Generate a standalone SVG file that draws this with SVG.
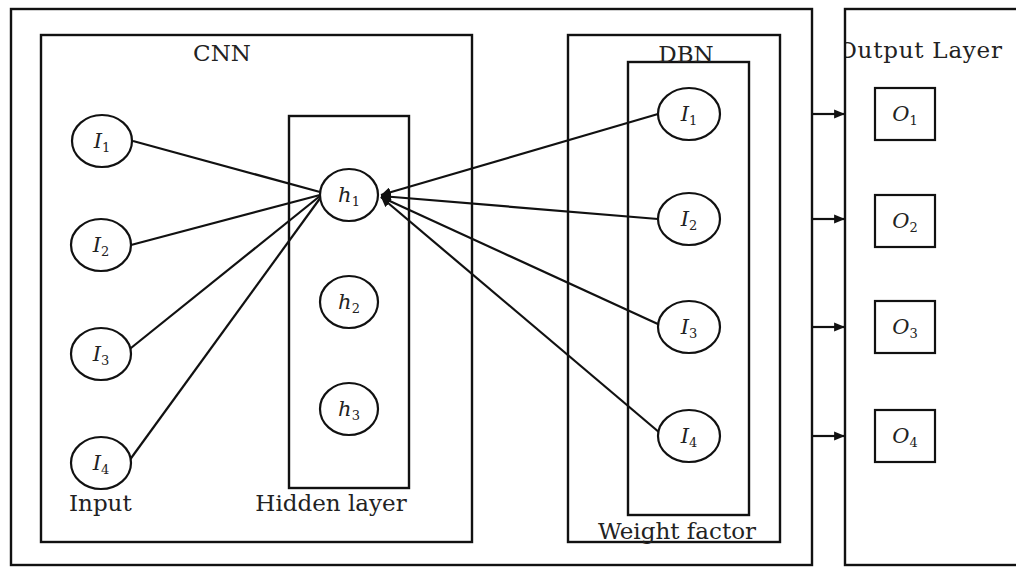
<svg xmlns="http://www.w3.org/2000/svg" width="1016" height="567" viewBox="0 0 1016 567">
<style>
.frame{fill:none;stroke:#111;stroke-width:2.4}
.node{fill:#fff;stroke:#111;stroke-width:2.2}
.edge{fill:none;stroke:#111;stroke-width:2.2}
.t{font-family:"DejaVu Serif","Liberation Serif",serif;font-size:23px;fill:#222}
.m{font-family:"DejaVu Serif","Liberation Serif",serif;font-style:italic;font-size:21px;fill:#222;text-anchor:middle}
.s{font-style:normal;font-size:13px}
</style>
<defs>
<marker id="ah" viewBox="0 0 10 10" refX="10" refY="5" markerWidth="4.5" markerHeight="4.5" orient="auto" markerUnits="strokeWidth">
<path d="M0,0 L10,5 L0,10 z" fill="#111"/>
</marker>
<marker id="ah2" viewBox="0 0 10 10" refX="9" refY="5" markerWidth="5" markerHeight="5" orient="auto" markerUnits="strokeWidth">
<path d="M0,1 L10,5 L0,9 z" fill="#111"/>
</marker>
</defs>
<rect width="1016" height="567" fill="#fff"/>
<g id="outer-frame"><rect class="frame" x="11" y="9" width="801" height="556"/></g>
<g id="output-frame">
<text class="t" x="838" y="58" textLength="164">Output Layer</text>
<rect x="833" y="0" width="11" height="80" fill="#fff"/>
<rect class="frame" x="845" y="9" width="190" height="556"/>
</g>
<g id="cnn">
<rect class="frame" x="41" y="35" width="431" height="507"/>
<text class="t" x="222" y="61" text-anchor="middle">CNN</text>
<text class="t" x="69" y="511">Input</text>
</g>
<g id="hidden-layer">
<rect class="frame" x="289" y="116" width="120" height="372"/>
<text class="t" x="331" y="511" text-anchor="middle">Hidden layer</text>
</g>
<g id="dbn">
<rect class="frame" x="568" y="35" width="212" height="507"/>
<rect class="frame" x="628" y="62" width="121" height="453"/>
<text class="t" x="686" y="62" text-anchor="middle">DBN</text>
<text class="t" x="677" y="539" text-anchor="middle">Weight factor</text>
</g>
<g id="connectors">
<line class="edge" x1="133" y1="141" x2="320" y2="192"/>
<line class="edge" x1="131" y1="245" x2="320" y2="195"/>
<line class="edge" x1="126" y1="352" x2="320" y2="196"/>
<line class="edge" x1="129" y1="461" x2="321" y2="197"/>
<line class="edge" x1="658" y1="114" x2="381" y2="195" marker-end="url(#ah)"/>
<line class="edge" x1="658" y1="219" x2="381" y2="196" marker-end="url(#ah)"/>
<line class="edge" x1="660" y1="325" x2="381" y2="197" marker-end="url(#ah)"/>
<line class="edge" x1="660" y1="433" x2="381" y2="197" marker-end="url(#ah)"/>
<line class="edge" x1="812" y1="114" x2="844" y2="114" marker-end="url(#ah2)"/>
<line class="edge" x1="812" y1="219" x2="844" y2="219" marker-end="url(#ah2)"/>
<line class="edge" x1="812" y1="327" x2="844" y2="327" marker-end="url(#ah2)"/>
<line class="edge" x1="812" y1="436" x2="844" y2="436" marker-end="url(#ah2)"/>
</g>
<g id="in-I1"><ellipse class="node" cx="102" cy="141" rx="30" ry="26"/><text class="m" x="102" y="148">I<tspan class="s" dy="4">1</tspan></text></g>
<g id="in-I2"><ellipse class="node" cx="101" cy="245" rx="30" ry="26"/><text class="m" x="101" y="252">I<tspan class="s" dy="4">2</tspan></text></g>
<g id="in-I3"><ellipse class="node" cx="101" cy="354" rx="30" ry="26"/><text class="m" x="101" y="361">I<tspan class="s" dy="4">3</tspan></text></g>
<g id="in-I4"><ellipse class="node" cx="101" cy="463" rx="30" ry="26"/><text class="m" x="101" y="470">I<tspan class="s" dy="4">4</tspan></text></g>
<g id="h1"><ellipse class="node" cx="349" cy="195" rx="29" ry="26"/><text class="m" x="349" y="202">h<tspan class="s" dy="4">1</tspan></text></g>
<g id="h2"><ellipse class="node" cx="349" cy="302" rx="29" ry="26"/><text class="m" x="349" y="309">h<tspan class="s" dy="4">2</tspan></text></g>
<g id="h3"><ellipse class="node" cx="349" cy="409" rx="29" ry="26"/><text class="m" x="349" y="416">h<tspan class="s" dy="4">3</tspan></text></g>
<g id="dbn-I1"><ellipse class="node" cx="689" cy="114" rx="31" ry="26"/><text class="m" x="689" y="121">I<tspan class="s" dy="4">1</tspan></text></g>
<g id="dbn-I2"><ellipse class="node" cx="689" cy="219" rx="31" ry="26"/><text class="m" x="689" y="226">I<tspan class="s" dy="4">2</tspan></text></g>
<g id="dbn-I3"><ellipse class="node" cx="689" cy="327" rx="31" ry="26"/><text class="m" x="689" y="334">I<tspan class="s" dy="4">3</tspan></text></g>
<g id="dbn-I4"><ellipse class="node" cx="689" cy="436" rx="31" ry="26"/><text class="m" x="689" y="443">I<tspan class="s" dy="4">4</tspan></text></g>
<g id="O1"><rect class="node" x="875" y="88" width="60" height="52"/><text class="m" x="905" y="121">O<tspan class="s" dy="4">1</tspan></text></g>
<g id="O2"><rect class="node" x="875" y="195" width="60" height="52"/><text class="m" x="905" y="228">O<tspan class="s" dy="4">2</tspan></text></g>
<g id="O3"><rect class="node" x="875" y="301" width="60" height="52"/><text class="m" x="905" y="334">O<tspan class="s" dy="4">3</tspan></text></g>
<g id="O4"><rect class="node" x="875" y="410" width="60" height="52"/><text class="m" x="905" y="443">O<tspan class="s" dy="4">4</tspan></text></g>
</svg>
